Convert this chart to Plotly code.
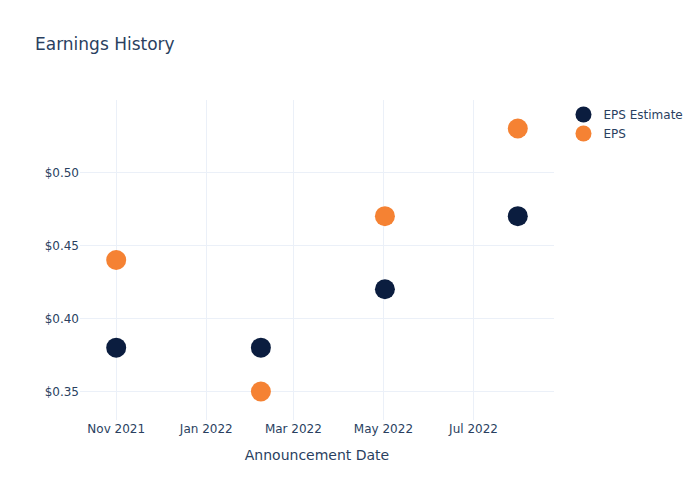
import plotly.graph_objects as go

dates = ["2021-11-01", "2022-02-07", "2022-05-02", "2022-07-31"]
eps_estimate = [0.38, 0.38, 0.42, 0.47]
eps_actual = [0.44, 0.35, 0.47, 0.53]

fig = go.Figure()
fig.add_trace(go.Scatter(x=dates, y=eps_estimate, mode="markers", name="EPS Estimate",
                         marker=dict(color="#0b1d3f", size=20)))
fig.add_trace(go.Scatter(x=dates, y=eps_actual, mode="markers", name="EPS",
                         marker=dict(color="#f58233", size=20)))
fig.update_layout(
    template="plotly_white",
    width=700, height=500,
    font=dict(family="DejaVu Sans"),
    title=dict(text="Earnings History"),
    xaxis=dict(title=dict(text="Announcement Date"), tickformat="%b %Y"),
    yaxis=dict(tickprefix="$", tickformat=".2f"),
)
fig.write_html("out.html")
